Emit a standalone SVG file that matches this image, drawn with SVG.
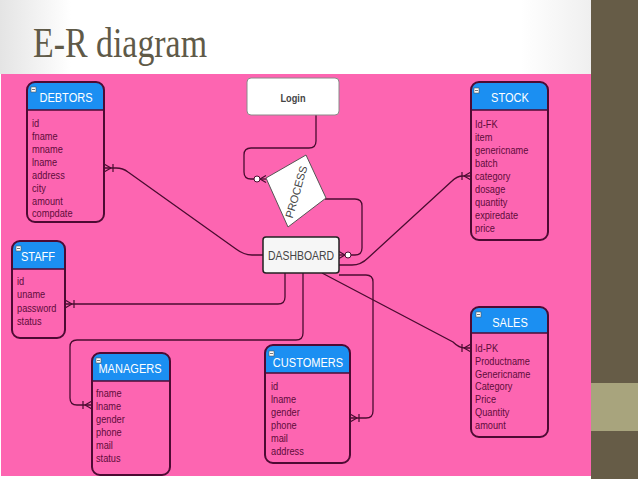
<svg xmlns="http://www.w3.org/2000/svg" width="638" height="479" viewBox="0 0 638 479">
<defs>
<linearGradient id="topbg" x1="0" y1="0" x2="1" y2="0">
<stop offset="0" stop-color="#e4e4e4"/>
<stop offset="0.12" stop-color="#ffffff"/>
<stop offset="0.88" stop-color="#ffffff"/>
<stop offset="1" stop-color="#efefef"/>
</linearGradient>
<marker id="many" markerUnits="userSpaceOnUse" viewBox="-12 -6 13 12" refX="0" refY="0" markerWidth="13" markerHeight="12" orient="auto" overflow="visible">
<path d="M-7,0 L0,-4 M-7,0 L0,4 M-9,-4 L-9,4" fill="none" stroke="#4a0c30" stroke-width="1.2"/>
</marker>
<marker id="foot" markerUnits="userSpaceOnUse" viewBox="-8 -5 9 10" refX="0" refY="0" markerWidth="9" markerHeight="10" orient="auto" overflow="visible">
<path d="M-6,0 L0,-3.5 M-6,0 L0,3.5" fill="none" stroke="#4a0c30" stroke-width="1.2"/>
</marker>
</defs>
<style>
.ebody{fill:#fd65b1;stroke:none}
.eline{fill:none;stroke:#4d0a33;stroke-width:2}
.hdr{fill:#1b8ff2}
.ttl{font-family:"Liberation Sans",Arial,sans-serif;font-size:13px;fill:#ffffff;text-anchor:middle}
.att{font-family:"Liberation Sans",Arial,sans-serif;font-size:11px;fill:#5e0c3a}
.ico{fill:#ffffff;stroke:#555555;stroke-width:0.6}
.conn{fill:none;stroke:#4a0c30;stroke-width:1.3}
.dot{fill:#ffffff;stroke:#4a0c30;stroke-width:1}
.lbl{font-family:"Liberation Sans",Arial,sans-serif;fill:#444444}
</style>

<!-- backgrounds -->
<rect x="0" y="0" width="638" height="479" fill="#ffffff"/>
<rect x="0" y="0" width="592" height="74" fill="url(#topbg)"/>
<rect x="1" y="74" width="590" height="402" fill="#fd65b1"/>
<rect x="591" y="0" width="47" height="479" fill="#665c47"/>
<rect x="591" y="383" width="47" height="48" fill="#a8a47d"/>
<text x="33" y="57" font-family="Liberation Serif, Times New Roman, serif" font-size="43" fill="#5f5a48" textLength="174" lengthAdjust="spacingAndGlyphs">E-R diagram</text>

<!-- connectors -->
<g id="connectors">
<path class="conn" d="M316,115 V141 Q316,148 309,148 H251 Q244,148 244,155 V172 Q244,179 251,179 H254"/>
<circle class="dot" cx="257" cy="179" r="3"/>
<path class="conn" d="M260,179 H266" marker-end="url(#foot)"/>
<path class="conn" d="M325,199 H355 Q362,199 362,206 V248 Q362,255 355,255 H351"/>
<circle class="dot" cx="348" cy="255" r="3"/>
<path class="conn" d="M345,255 H339" marker-end="url(#foot)"/>
<path class="conn" d="M263,255 H252 Q244,255 236,249 L128,172 Q123,168 116,168 H104" marker-end="url(#many)"/>
<path class="conn" d="M339,265 H352 Q361,265 368,258 L452,181 Q457,176 463,176 H471" marker-end="url(#many)"/>
<path class="conn" d="M322,273 L453,342 Q459,348 465,348 H471" marker-end="url(#many)"/>
<path class="conn" d="M339,275 H366 Q373,275 373,282 V411 Q373,418 366,418 H350" marker-end="url(#many)"/>
<path class="conn" d="M285,273 V297 Q285,304 278,304 H65" marker-end="url(#many)"/>
<path class="conn" d="M303,273 V333 Q303,340 296,340 H77 Q70,340 70,347 V398 Q70,405 77,405 H92" marker-end="url(#many)"/>
</g>

<!-- Login -->
<g id="login">
<rect x="247" y="78" width="92" height="37" rx="4" fill="#ffffff" stroke="#8a8a8a" stroke-width="1"/>
<text class="lbl" x="293" y="102" font-size="11.5" font-weight="bold" text-anchor="middle" textLength="25" lengthAdjust="spacingAndGlyphs">Login</text>
</g>

<!-- PROCESS -->
<g id="process">
<polygon points="266,178 306,155 326,198 288,227" fill="#ffffff" stroke="#555555" stroke-width="1"/>
<text class="lbl" x="0" y="0" font-size="11" text-anchor="middle" transform="translate(300,193) rotate(-74)">PROCESS</text>
</g>

<!-- DASHBOARD -->
<g id="dashboard">
<rect x="263" y="237" width="76" height="36" rx="3" fill="#f6f6f6" stroke="#222222" stroke-width="1.5"/>
<text class="lbl" x="301" y="260" font-size="12" fill="#333333" text-anchor="middle" textLength="66" lengthAdjust="spacingAndGlyphs">DASHBOARD</text>
</g>

<!-- DEBTORS -->
<g id="debtors">
<rect class="ebody" x="27" y="82" width="77" height="140" rx="8"/>
<path class="hdr" d="M27,110 V90 Q27,82 35,82 H96 Q104,82 104,90 V110 Z"/>
<line x1="27" y1="110" x2="104" y2="110" stroke="#4d0a33" stroke-width="1.5"/>
<rect class="eline" x="27" y="82" width="77" height="140" rx="8"/>
<rect class="ico" x="31" y="87" width="5" height="5"/><line x1="32" y1="89.5" x2="35" y2="89.5" stroke="#555" stroke-width="0.8"/>
<text class="ttl" transform="translate(66,102) scale(0.85,1)">DEBTORS</text>
<g transform="translate(32,0) scale(0.84,1)">
<text class="att" x="0" y="127">id</text>
<text class="att" x="0" y="140">fname</text>
<text class="att" x="0" y="153">mname</text>
<text class="att" x="0" y="166">lname</text>
<text class="att" x="0" y="179">address</text>
<text class="att" x="0" y="192">city</text>
<text class="att" x="0" y="205">amount</text>
<text class="att" x="0" y="217">compdate</text>
</g>
</g>

<!-- STOCK -->
<g id="stock">
<rect class="ebody" x="471" y="82" width="77" height="158" rx="8"/>
<path class="hdr" d="M471,110 V90 Q471,82 479,82 H540 Q548,82 548,90 V110 Z"/>
<line x1="471" y1="110" x2="548" y2="110" stroke="#4d0a33" stroke-width="1.5"/>
<rect class="eline" x="471" y="82" width="77" height="158" rx="8"/>
<rect class="ico" x="474" y="88" width="5" height="5"/><line x1="475" y1="90.5" x2="478" y2="90.5" stroke="#555" stroke-width="0.8"/>
<text class="ttl" transform="translate(510,102) scale(0.85,1)">STOCK</text>
<g transform="translate(475,0) scale(0.84,1)">
<text class="att" x="0" y="128">Id-FK</text>
<text class="att" x="0" y="141">item</text>
<text class="att" x="0" y="154">genericname</text>
<text class="att" x="0" y="167">batch</text>
<text class="att" x="0" y="180">category</text>
<text class="att" x="0" y="193">dosage</text>
<text class="att" x="0" y="206">quantity</text>
<text class="att" x="0" y="219">expiredate</text>
<text class="att" x="0" y="232">price</text>
</g>
</g>

<!-- STAFF -->
<g id="staff">
<rect class="ebody" x="12" y="241" width="53" height="97" rx="8"/>
<path class="hdr" d="M12,269 V249 Q12,241 20,241 H57 Q65,241 65,249 V269 Z"/>
<line x1="12" y1="269" x2="65" y2="269" stroke="#4d0a33" stroke-width="1.5"/>
<rect class="eline" x="12" y="241" width="53" height="97" rx="8"/>
<rect class="ico" x="16" y="246" width="5" height="5"/><line x1="17" y1="248.5" x2="20" y2="248.5" stroke="#555" stroke-width="0.8"/>
<text class="ttl" transform="translate(38,261) scale(0.85,1)">STAFF</text>
<g transform="translate(17,0) scale(0.84,1)">
<text class="att" x="0" y="285">id</text>
<text class="att" x="0" y="298">uname</text>
<text class="att" x="0" y="312">password</text>
<text class="att" x="0" y="325">status</text>
</g>
</g>

<!-- SALES -->
<g id="sales">
<rect class="ebody" x="471" y="307" width="77" height="130" rx="8"/>
<path class="hdr" d="M471,333 V315 Q471,307 479,307 H540 Q548,307 548,315 V333 Z"/>
<line x1="471" y1="333" x2="548" y2="333" stroke="#4d0a33" stroke-width="1.5"/>
<rect class="eline" x="471" y="307" width="77" height="130" rx="8"/>
<rect class="ico" x="476" y="312" width="5" height="5"/><line x1="477" y1="314.5" x2="480" y2="314.5" stroke="#555" stroke-width="0.8"/>
<text class="ttl" transform="translate(510,327) scale(0.85,1)">SALES</text>
<g transform="translate(475,0) scale(0.84,1)">
<text class="att" x="0" y="352">Id-PK</text>
<text class="att" x="0" y="365">Productname</text>
<text class="att" x="0" y="378">Genericname</text>
<text class="att" x="0" y="390">Category</text>
<text class="att" x="0" y="403">Price</text>
<text class="att" x="0" y="416">Quantity</text>
<text class="att" x="0" y="429">amount</text>
</g>
</g>

<!-- MANAGERS -->
<g id="managers">
<rect class="ebody" x="92" y="353" width="78" height="122" rx="8"/>
<path class="hdr" d="M92,381 V361 Q92,353 100,353 H162 Q170,353 170,361 V381 Z"/>
<line x1="92" y1="381" x2="170" y2="381" stroke="#4d0a33" stroke-width="1.5"/>
<rect class="eline" x="92" y="353" width="78" height="122" rx="8"/>
<rect class="ico" x="96" y="358" width="5" height="5"/><line x1="97" y1="360.5" x2="100" y2="360.5" stroke="#555" stroke-width="0.8"/>
<text class="ttl" transform="translate(130,373) scale(0.85,1)">MANAGERS</text>
<g transform="translate(96,0) scale(0.84,1)">
<text class="att" x="0" y="397">fname</text>
<text class="att" x="0" y="410">lname</text>
<text class="att" x="0" y="423">gender</text>
<text class="att" x="0" y="436">phone</text>
<text class="att" x="0" y="449">mail</text>
<text class="att" x="0" y="462">status</text>
</g>
</g>

<!-- CUSTOMERS -->
<g id="customers">
<rect class="ebody" x="265" y="345" width="85" height="118" rx="8"/>
<path class="hdr" d="M265,373 V353 Q265,345 273,345 H342 Q350,345 350,353 V373 Z"/>
<line x1="265" y1="373" x2="350" y2="373" stroke="#4d0a33" stroke-width="1.5"/>
<rect class="eline" x="265" y="345" width="85" height="118" rx="8"/>
<rect class="ico" x="269" y="351" width="5" height="5"/><line x1="270" y1="353.5" x2="273" y2="353.5" stroke="#555" stroke-width="0.8"/>
<text class="ttl" transform="translate(308,367) scale(0.85,1)">CUSTOMERS</text>
<g transform="translate(271,0) scale(0.84,1)">
<text class="att" x="0" y="390">id</text>
<text class="att" x="0" y="403">lname</text>
<text class="att" x="0" y="416">gender</text>
<text class="att" x="0" y="429">phone</text>
<text class="att" x="0" y="442">mail</text>
<text class="att" x="0" y="455">address</text>
</g>
</g>
</svg>
